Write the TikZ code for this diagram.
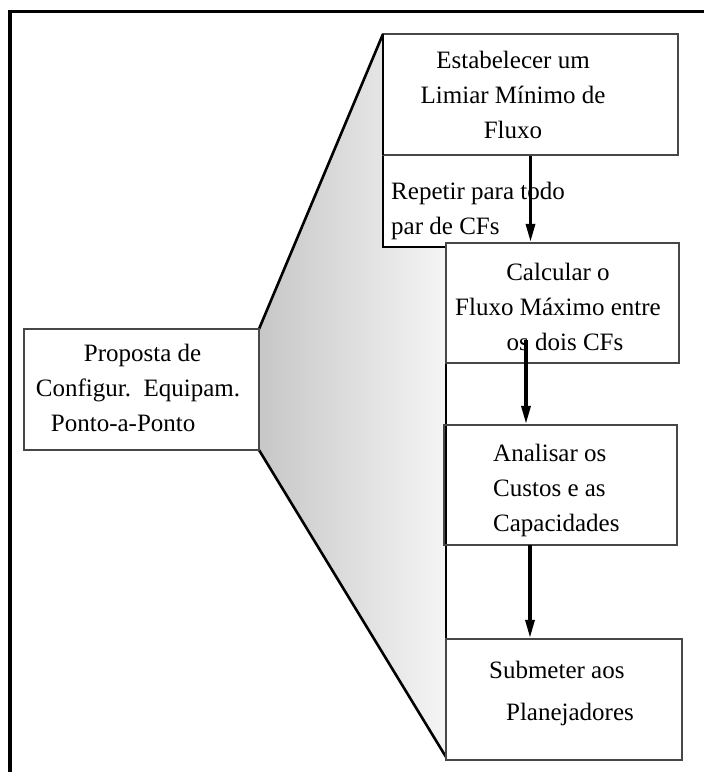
\documentclass[tikz,border=0pt]{standalone}
\usepackage{fontspec}
\setmainfont{Liberation Serif}
\usetikzlibrary{arrows.meta}
\begin{document}
\begin{tikzpicture}[x=1pt,y=-1pt,
  box/.style={draw=black!72,line width=2.2pt,inner sep=0pt},
  txt/.style={inner sep=0pt,font=\fontsize{25}{35}\selectfont},
  edge/.style={draw=black,line width=2.6pt,line join=miter},
  arr/.style={line width=3.2pt,-{Triangle[length=18pt,width=9pt]}}]
\useasboundingbox (0,0) rectangle (704,772);
% outer frame (only top and left edges fall inside the page)
\draw[line width=3.5pt] (704,11.5) -- (10,11.5) -- (10,772);

% stippled wedge joining the proposal to the detailed steps
\shade[left color=black!22,right color=black!4]
  (259,329) -- (383,34) -- (383,247) -- (446,247) -- (446,757) -- (259,450) -- cycle;
\draw[edge] (259,329) -- (383,34);
\draw[edge] (259,450) -- (446,757);
\draw[edge] (383,34) -- (383,247) -- (446,247) -- (446,757);

% boxes
\node[box,minimum width=235pt,minimum height=121pt] (prop) at (141.5,389.5) {};
\node[box,minimum width=295pt,minimum height=121pt] (estab) at (530.5,94.5) {};
\node[box,minimum width=233pt,minimum height=120pt] (calc) at (562.5,303) {};
\node[box,minimum width=233pt,minimum height=120pt] (anal) at (560.5,485) {};
\node[box,minimum width=236pt,minimum height=121pt] (subm) at (564,699.5) {};
\draw[edge] (383,34) -- (383,155);

% texts
\node[txt,align=left] (tprop) at (138,388)
  {\hspace*{48pt}Proposta de\\Configur.~~Equipam.\\\hspace*{15pt}Ponto-a-Ponto};
\node[txt,align=center] (testab) at (513,95) {Estabelecer um\\Limiar Mínimo de\\Fluxo};
\node[txt,align=left] (trep) at (478,210.5) {Repetir para todo\\par de CFs};
\node[txt,align=center] (tcalc) at (558,306.5) {Calcular o\\Fluxo Máximo entre\\\hspace*{14pt}os dois CFs};
\node[txt,align=left,anchor=west] (tanal) at (493,490) {Analisar os\\Custos e as\\Capacidades};
\node[txt,align=left,font=\fontsize{25}{42}\selectfont] (tsubm) at (561.5,693) {Submeter aos\\\hspace*{17pt}Planejadores};

% flow arrows
\coordinate (a2) at (526,340);
\coordinate (a3) at (530,545);
\draw[arr] (estab.south) -- (estab.south |- calc.north);
\draw[arr] (a2) -- (a2 |- anal.north);
\draw[arr] (a3) -- (a3 |- subm.north);
\end{tikzpicture}
\end{document}
